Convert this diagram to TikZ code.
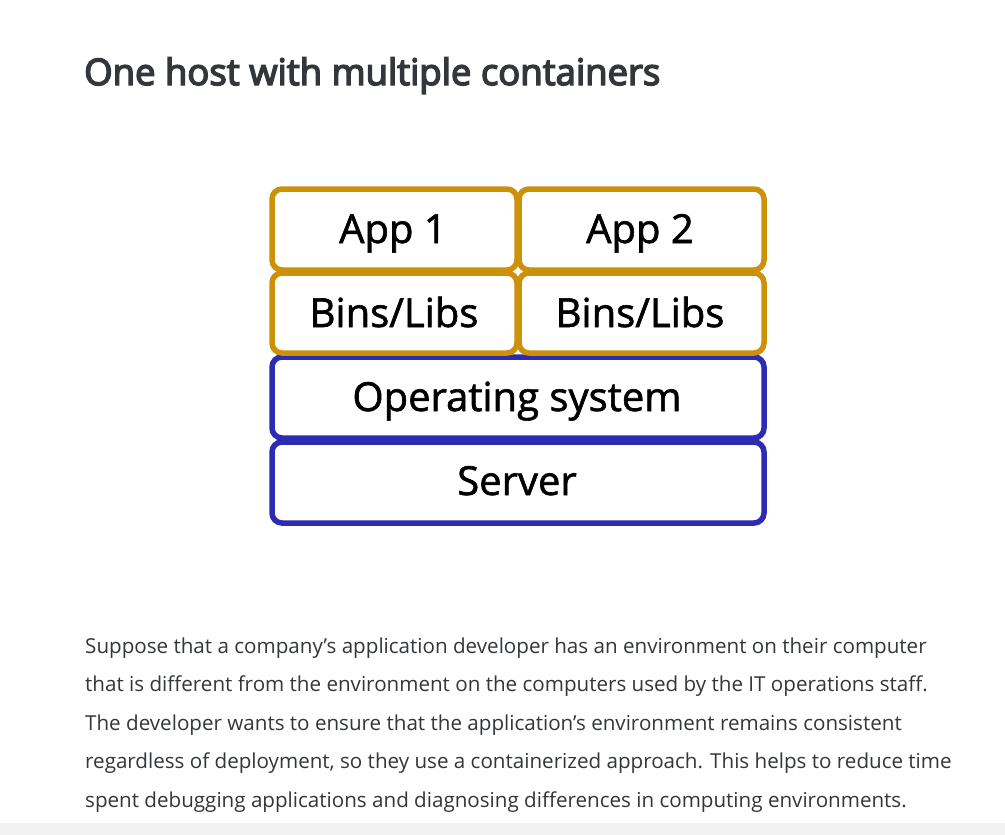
\documentclass[tikz,border=0pt]{standalone}
\usepackage{fontspec}
\setmainfont{Open Sans}
\newfontfamily\titlefont[FakeBold=4]{Open Sans}
\newfontfamily\labelfont[FakeBold=1.5]{Open Sans}
\definecolor{gold}{RGB}{203,145,8}
\definecolor{navy}{RGB}{45,43,178}
\definecolor{ink}{RGB}{51,54,58}
\definecolor{stripgray}{RGB}{242,242,242}
\begin{document}
\begin{tikzpicture}[x=1pt,y=-1pt,
  layerbox/.style={line width=5.5pt,rounded corners=10pt,fill=white},
  boxlabel/.style={anchor=base,inner sep=0pt,font=\labelfont\fontsize{40}{46}\selectfont,text=black},
  paraline/.style={anchor=base west,inner sep=0pt,font=\fontsize{20.6}{24}\selectfont,text=ink}]
\useasboundingbox (0,0) rectangle (1005,835);
\fill[white] (0,0) rectangle (1005,835);
\fill[stripgray] (0,823) rectangle (1005,835);
% title
\node[anchor=base west,inner sep=0pt,font=\titlefont\fontsize{36.5}{42}\selectfont,text=ink] (title) at (84,85) {One host with multiple containers};
% boxes
\draw[layerbox,draw=navy] (272,442) rectangle (764,523);
\draw[layerbox,draw=navy] (272,357) rectangle (764,438);
\draw[layerbox,draw=gold] (272,273) rectangle (517,353);
\draw[layerbox,draw=gold] (519,273) rectangle (764,353);
\draw[layerbox,draw=gold] (272,189) rectangle (517,270);
\draw[layerbox,draw=gold] (519,189) rectangle (764,270);
\node[boxlabel] (app1) at (393,243) {App 1};
\node[boxlabel] (app2) at (640,243) {App 2};
\node[boxlabel] (bins1) at (394,327) {Bins/Libs};
\node[boxlabel] (bins2) at (640,327) {Bins/Libs};
\node[boxlabel] (os) at (517,411) {Operating system};
\node[boxlabel] (server) at (517,495) {Server};
% paragraph
\node[paraline] (p1) at (85,653) {Suppose that a company’s application developer has an environment on their computer};
\node[paraline] (p2) at (85,691) {that is different from the environment on the computers used by the IT operations staff.};
\node[paraline] (p3) at (85,730) {The developer wants to ensure that the application’s environment remains consistent};
\node[paraline] (p4) at (85,768) {regardless of deployment, so they use a containerized approach. This helps to reduce time};
\node[paraline] (p5) at (85,807) {spent debugging applications and diagnosing differences in computing environments.};
\end{tikzpicture}
\end{document}
